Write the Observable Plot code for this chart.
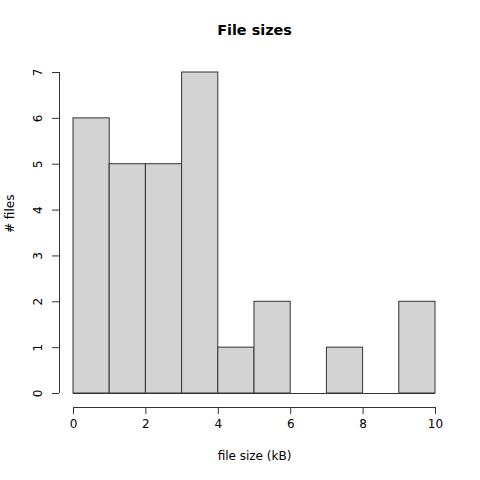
<!DOCTYPE html>
<html>
<head>
<meta charset="utf-8">
<script src="https://cdn.jsdelivr.net/npm/d3@7"></script>
<script src="https://cdn.jsdelivr.net/npm/@observablehq/plot@0.6"></script>
<style>
  html, body { margin: 0; padding: 0; background: #fff; }
  svg { font-family: "DejaVu Sans", sans-serif; }
</style>
</head>
<body>
<div id="chart"></div>
<script>
const binStarts = [0, 1, 2, 3, 4, 5, 6, 7, 8, 9];
const binWidth = 1;
const counts = [6, 5, 5, 7, 1, 2, 0, 1, 0, 2];
const xTicks = [0, 2, 4, 6, 8, 10];
const yTicks = [0, 1, 2, 3, 4, 5, 6, 7];
const title = "File sizes";
const xLabel = "file size (kB)";
const yLabel = "# files";

const bins = binStarts.map((s, i) => ({x1: s, x2: s + binWidth, count: counts[i]}));

const chart = Plot.plot({
  width: 480,
  height: 480,
  marginTop: 72,
  marginBottom: 87,
  marginLeft: 73,
  marginRight: 45,
  style: {fontFamily: "DejaVu Sans, sans-serif", fontSize: "12px", background: "#fff"},
  x: {domain: [0, 10]},
  y: {domain: [0, 7]},
  marks: [
    Plot.rect(bins, {x1: "x1", x2: "x2", y1: 0, y2: "count", fill: "#d3d3d3", stroke: "#333", strokeWidth: 1}),
    // baseline of each bin (visible for empty bins)
    Plot.ruleY(bins, {x1: "x1", x2: "x2", y: 0, stroke: "#333"}),
    // x axis
    Plot.ruleY([0], {x1: xTicks[0], x2: xTicks[xTicks.length - 1], dy: 14, stroke: "#333"}),
    Plot.axisX({ticks: xTicks, tickSize: 7, dy: 14, tickPadding: 5, fontSize: 12, stroke: "#333", color: "#000", label: null}),
    // y axis
    Plot.ruleX([0], {y1: yTicks[0], y2: yTicks[yTicks.length - 1], dx: -14, stroke: "#333"}),
    Plot.axisY({ticks: yTicks, tickSize: 7, dx: -14, tickFormat: () => "", stroke: "#333", label: null}),
    Plot.text(yTicks, {x: 0, y: d => d, text: d => String(d), rotate: -90, dx: -35, fontSize: 12, fill: "#000", textAnchor: "middle", lineAnchor: "middle"}),
    // titles
    Plot.text([title], {frameAnchor: "top", text: d => d, dy: -42, fontSize: 14.4, fontWeight: "bold", fill: "#000", lineAnchor: "middle"}),
    Plot.text([xLabel], {frameAnchor: "bottom", text: d => d, dy: 63, fontSize: 12, fill: "#000", lineAnchor: "middle"}),
    Plot.text([yLabel], {frameAnchor: "left", text: d => d, dx: -63, rotate: -90, fontSize: 12, fill: "#000", lineAnchor: "middle"})
  ]
});
document.getElementById("chart").appendChild(chart);
</script>
</body>
</html>
